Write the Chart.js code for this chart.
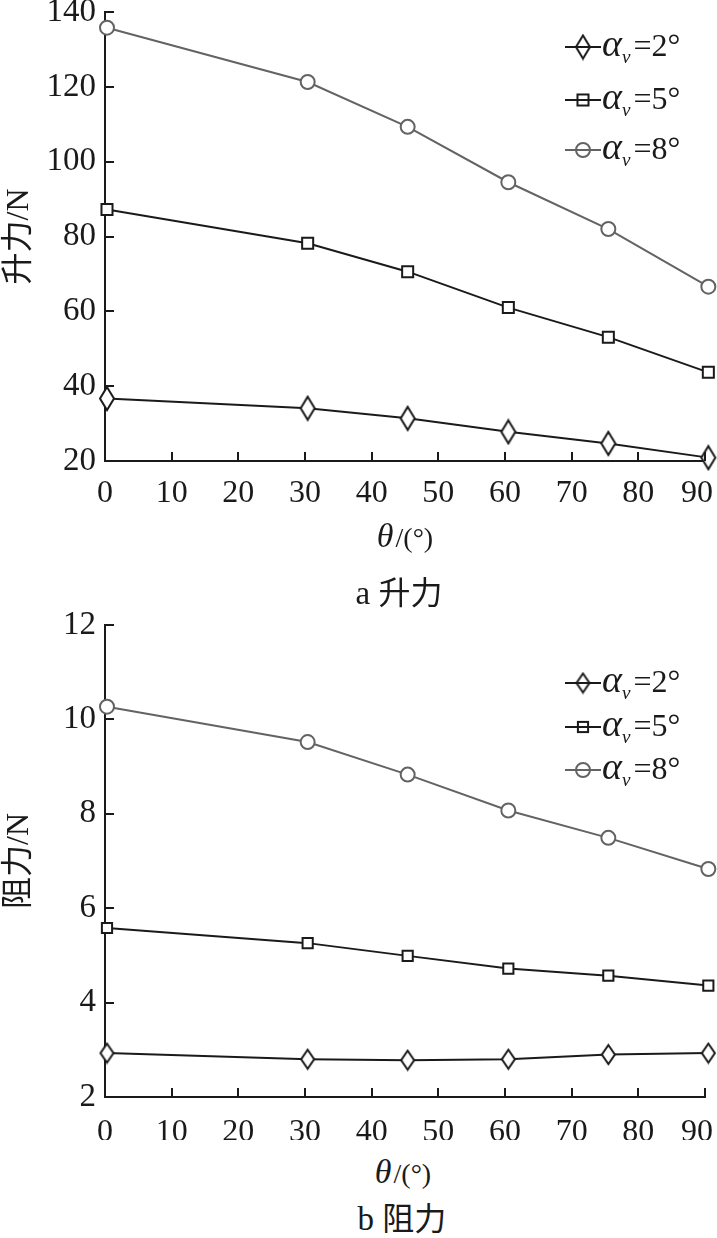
<!DOCTYPE html>
<html>
<head>
<meta charset="utf-8">
<script src="https://cdn.jsdelivr.net/npm/chart.js@4/dist/chart.umd.min.js"></script>
<style>
  html, body { margin: 0; padding: 0; background: #fff; overflow: hidden; }
  #page { position: relative; width: 717px; height: 1238px; }
  canvas { position: absolute; left: 0; }
  .lbl { position: absolute; width: 240px; text-align: center; color: #1a1a1a;
         font-family: "Liberation Serif", "Noto Sans CJK SC", serif; white-space: nowrap; }
  .xt { font-size: 28px; line-height: 40px; }
  .xt i { font-size: 34px; margin-right: 2px; }
  .cap { font-size: 33px; line-height: 40px; }
  .cap .zh { font-family: "Noto Sans CJK SC", sans-serif; font-size: 32px; }
</style>
</head>
<body>
<div id="page">
  <canvas id="liftChart" width="717" height="520" style="top:0;width:717px;height:520px"></canvas>
  <div class="lbl xt" style="left:285px;top:516px"><i>θ</i>/(°)</div>
  <div class="lbl cap" style="left:279px;top:570px">a <span class="zh">升力</span></div>

  <canvas id="dragChart" width="717" height="540" style="top:600px;width:717px;height:540px"></canvas>
  <div class="lbl xt" style="left:283px;top:1152px"><i>θ</i>/(°)</div>
  <div class="lbl cap" style="left:282px;top:1196px">b <span class="zh">阻力</span></div>
</div>

<script>
// values
var THETA = [0.3, 30.4, 45.4, 60.5, 75.5, 90.5];
var ALPHA_LABELS = ['2°', '5°', '8°'];

var LIFT_A2 = [36.7, 34.1, 31.4, 27.8, 24.7, 20.9];
var LIFT_A5 = [87.2, 78.2, 70.6, 61.0, 53.1, 43.7];
var LIFT_A8 = [135.8, 121.3, 109.3, 94.5, 82.0, 66.6];

var DRAG_A2 = [2.93, 2.80, 2.78, 2.80, 2.90, 2.93];
var DRAG_A5 = [5.58, 5.26, 4.99, 4.72, 4.57, 4.36];
var DRAG_A8 = [10.27, 9.52, 8.83, 8.07, 7.49, 6.83];

var X_TICKS = [0, 10, 20, 30, 40, 50, 60, 70, 80, 90];
var LIFT_TICKS = [20, 40, 60, 80, 100, 120, 140];
var DRAG_TICKS = [2, 4, 6, 8, 10, 12];

var INK = '#1a1a1a';
var GREY = '#636363';
var SERIF = '"Liberation Serif", "Noto Sans CJK SC", serif';

function makeDiamond(w, h, color, fill) {
  var c = document.createElement('canvas');
  c.width = w + 4;
  c.height = h + 4;
  var g = c.getContext('2d');
  g.beginPath();
  g.moveTo(c.width / 2, 2);
  g.lineTo(c.width - 2, c.height / 2);
  g.lineTo(c.width / 2, c.height - 2);
  g.lineTo(2, c.height / 2);
  g.closePath();
  if (fill) { g.fillStyle = fill; g.fill(); }
  g.lineWidth = 2;
  g.strokeStyle = color;
  g.stroke();
  return c;
}

function toPoints(ys) {
  return ys.map(function(y, i) { return { x: THETA[i], y: y }; });
}

function series(label, ys, color, style, radius, legendStyle) {
  return {
    label: label,
    data: toPoints(ys),
    borderColor: color,
    borderWidth: 2,
    pointStyle: style,
    legendStyle: legendStyle || style,
    pointRadius: radius,
    pointBorderWidth: 2,
    pointBorderColor: color,
    pointBackgroundColor: '#ffffff',
    clip: false,
    tension: 0
  };
}

function drawMarker(ctx, ds, x, y) {
  var s = ds.legendStyle;
  ctx.save();
  ctx.strokeStyle = ds.borderColor;
  ctx.lineWidth = 2;
  if (typeof s !== 'string') {
    ctx.drawImage(s, x - s.width / 2, y - s.height / 2);
  } else if (s === 'rect') {
    var h = ds.pointRadius * Math.SQRT1_2;
    ctx.strokeRect(x - h, y - h, 2 * h, 2 * h);
  } else {
    ctx.beginPath();
    ctx.arc(x, y, ds.pointRadius, 0, Math.PI * 2);
    ctx.stroke();
  }
  ctx.restore();
}

// legend drawn by hand so the subscript v can be set small and low
var seriesLegend = {
  id: 'seriesLegend',
  afterDraw: function(chart, args, opts) {
    var ctx = chart.ctx;
    chart.data.datasets.forEach(function(ds, i) {
      var y = opts.rows[i];
      var x0 = opts.x;
      ctx.save();
      ctx.strokeStyle = ds.borderColor;
      ctx.lineWidth = 2;
      ctx.beginPath();
      ctx.moveTo(x0, y);
      ctx.lineTo(x0 + 36, y);
      ctx.stroke();
      drawMarker(ctx, ds, x0 + 18, y);

      var tx = x0 + 37;
      ctx.fillStyle = INK;
      ctx.textBaseline = 'alphabetic';
      ctx.font = 'italic 38px "Liberation Serif"';
      ctx.fillText('α', tx, y + 9);
      tx += ctx.measureText('α').width;
      ctx.font = 'italic 19px "Liberation Serif"';
      ctx.fillText('v', tx, y + 16);
      tx += ctx.measureText('v').width + 3;
      ctx.font = '32px "Liberation Serif"';
      ctx.fillText('=' + ALPHA_LABELS[i], tx, y + 9);
      ctx.restore();
    });
  }
};

// tick marks point into the plot
var innerTicks = {
  id: 'innerTicks',
  afterDraw: function(chart) {
    var ctx = chart.ctx;
    var area = chart.chartArea;
    var xs = chart.scales.x, ys = chart.scales.y;
    ctx.save();
    ctx.strokeStyle = INK;
    ctx.lineWidth = 2;
    ctx.beginPath();
    xs.ticks.forEach(function(t) {
      var px = Math.round(xs.getPixelForValue(t.value));
      ctx.moveTo(px, area.bottom);
      ctx.lineTo(px, area.bottom - 9);
    });
    ys.ticks.forEach(function(t) {
      var py = Math.round(ys.getPixelForValue(t.value));
      ctx.moveTo(area.left, py);
      ctx.lineTo(area.left + 9, py);
    });
    ctx.stroke();
    ctx.restore();
  }
};

function buildChart(id, datasets, yTicks, yTitle, padTop, xHeight, xPad, legendRows) {
  var xMax = X_TICKS[X_TICKS.length - 1];
  return new Chart(document.getElementById(id), {
    type: 'line',
    data: { datasets: datasets },
    options: {
      responsive: false,
      animation: false,
      events: [],
      layout: { padding: { top: padTop, right: 12, left: 0, bottom: 0 } },
      plugins: {
        legend: { display: false },
        tooltip: { enabled: false },
        seriesLegend: { x: 565, rows: legendRows }
      },
      scales: {
        x: {
          type: 'linear',
          min: X_TICKS[0],
          max: xMax,
          grid: { display: false, drawTicks: false },
          border: { display: true, color: INK, width: 2 },
          ticks: {
            stepSize: X_TICKS[1] - X_TICKS[0],
            autoSkip: false,
            maxRotation: 0,
            padding: xPad,
            color: INK,
            font: { family: SERIF, size: 32 },
            // last label sits against the page edge, nudge it inwards
            callback: function(v) { return v === xMax ? v + '\u2002' : v; }
          },
          afterFit: function(s) { s.height = xHeight; s.paddingLeft = 0; s.paddingRight = 0; }
        },
        y: {
          min: yTicks[0],
          max: yTicks[yTicks.length - 1],
          grid: { display: false, drawTicks: false },
          border: { display: true, color: INK, width: 2 },
          ticks: {
            stepSize: yTicks[1] - yTicks[0],
            autoSkip: false,
            padding: 9,
            color: INK,
            font: { family: SERIF, size: 33 }
          },
          title: {
            display: true,
            text: yTitle,
            color: INK,
            padding: { top: 0, bottom: 0 },
            font: { family: SERIF, size: 32 }
          },
          afterFit: function(s) { s.width = 105; s.paddingTop = 0; s.paddingBottom = 0; }
        }
      }
    },
    plugins: [innerTicks, seriesLegend]
  });
}

var diamondA = makeDiamond(14, 23, INK, '#ffffff');
var diamondAL = makeDiamond(14, 23, INK, null);
var diamondB = makeDiamond(13, 19, INK, '#ffffff');
var diamondBL = makeDiamond(13, 19, INK, null);

buildChart('liftChart', [
  series('αv=' + ALPHA_LABELS[0], LIFT_A2, INK, diamondA, 8, diamondAL),
  series('αv=' + ALPHA_LABELS[1], LIFT_A5, INK, 'rect', 7.8),
  series('αv=' + ALPHA_LABELS[2], LIFT_A8, GREY, 'circle', 7)
], LIFT_TICKS, '升力/N', 12, 59, 13, [47, 100, 150]);

buildChart('dragChart', [
  series('αv=' + ALPHA_LABELS[0], DRAG_A2, INK, diamondB, 8, diamondBL),
  series('αv=' + ALPHA_LABELS[1], DRAG_A5, INK, 'rect', 7.2),
  series('αv=' + ALPHA_LABELS[2], DRAG_A8, GREY, 'circle', 7)
], DRAG_TICKS, '阻力/N', 25, 43, 16, [83, 127, 170]);
</script>
</body>
</html>
